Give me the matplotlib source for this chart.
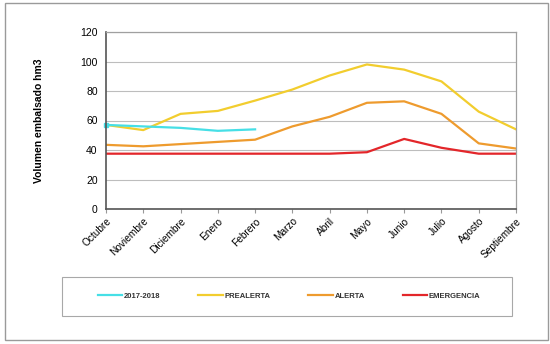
import matplotlib
matplotlib.use("Agg")
import matplotlib.pyplot as plt
from matplotlib.patches import Rectangle

months = ["Octubre", "Noviembre", "Diciembre", "Enero", "Febrero", "Marzo",
          "Abril", "Mayo", "Junio", "Julio", "Agosto", "Septiembre"]
serie_2017_2018 = [57, 56, 55, 53, 54]
prealerta = [57, 53.5, 64.5, 66.5, 73.5, 81, 90.5, 98, 94.5, 86.5, 66, 54]
alerta = [43.5, 42.5, 44, 45.5, 47, 56, 62.5, 72, 73, 64.5, 44.5, 41]
emergencia = [37.5, 37.5, 37.5, 37.5, 37.5, 37.5, 37.5, 38.5, 47.5, 41.5, 37.5, 37.5]
yticks = [0, 20, 40, 60, 80, 100, 120]

plt.rcParams['font.family'] = ['Liberation Sans', 'DejaVu Sans']

fig = plt.figure(figsize=(5.5, 3.44), dpi=100)
W, H = 550, 344

def fx(px):
    return px / W

def fy(py):
    return 1 - py / H

# outer frame
fig.patches.append(Rectangle((fx(5), fy(340)), fx(548) - fx(5), fy(3) - fy(340),
                             transform=fig.transFigure, fill=False,
                             edgecolor="#9a9a9a", linewidth=1.0))

ax = fig.add_axes([fx(106), fy(209), fx(516) - fx(106), fy(32) - fy(209)])
x = list(range(len(months)))

l_emerg, = ax.plot(x, emergencia, color="#e3262a", lw=1.6, label="EMERGENCIA")
l_alerta, = ax.plot(x, alerta, color="#ee9b2e", lw=1.6, label="ALERTA")
l_pre, = ax.plot(x, prealerta, color="#f2cd2e", lw=1.6, label="PREALERTA")
l_cur, = ax.plot(x[:len(serie_2017_2018)], serie_2017_2018, color="#46dfe6", lw=1.6,
                 label="2017-2018", marker="s", markersize=3.5, markevery=[0],
                 clip_on=False)

ax.set_xlim(0, len(months) - 1)
ax.set_ylim(0, 120)
ax.set_yticks(yticks)
ax.set_xticks(x)
ax.set_xticklabels(months, rotation=45, ha="right", rotation_mode="anchor", fontsize=7.3)
ax.tick_params(axis="y", length=0, labelsize=7.5, pad=6)
ax.tick_params(axis="x", length=3, width=0.8, color="#999999", pad=2)
ax.grid(axis="y", color="#bdbdbd", lw=0.8)
ax.set_axisbelow(True)
for s in ["top", "right"]:
    ax.spines[s].set_color("#a0a0a0")
    ax.spines[s].set_linewidth(0.9)
for s in ["left", "bottom"]:
    ax.spines[s].set_color("#555555")
    ax.spines[s].set_linewidth(1.2)

ax.set_ylabel("Volumen embalsado hm3", fontsize=7.5, fontweight="bold", labelpad=26)

# legend frame
fig.patches.append(Rectangle((fx(62), fy(316)), fx(512) - fx(62), fy(277) - fy(316),
                             transform=fig.transFigure, fill=False,
                             edgecolor="#a8a8a8", linewidth=0.8))
leg = fig.legend(handles=[l_cur, l_pre, l_alerta, l_emerg],
                 labels=["2017-2018", "PREALERTA", "ALERTA", "EMERGENCIA"],
                 loc="center", bbox_to_anchor=(fx(289), fy(296)), ncol=4,
                 frameon=False, fontsize=5.5, handlelength=3.2, handletextpad=0.2,
                 columnspacing=5.0)
for h in leg.legend_handles:
    h.set_marker("")
for t in leg.get_texts():
    t.set_fontweight("bold")
    t.set_color("#333333")

fig.savefig("out.png", dpi=100)
